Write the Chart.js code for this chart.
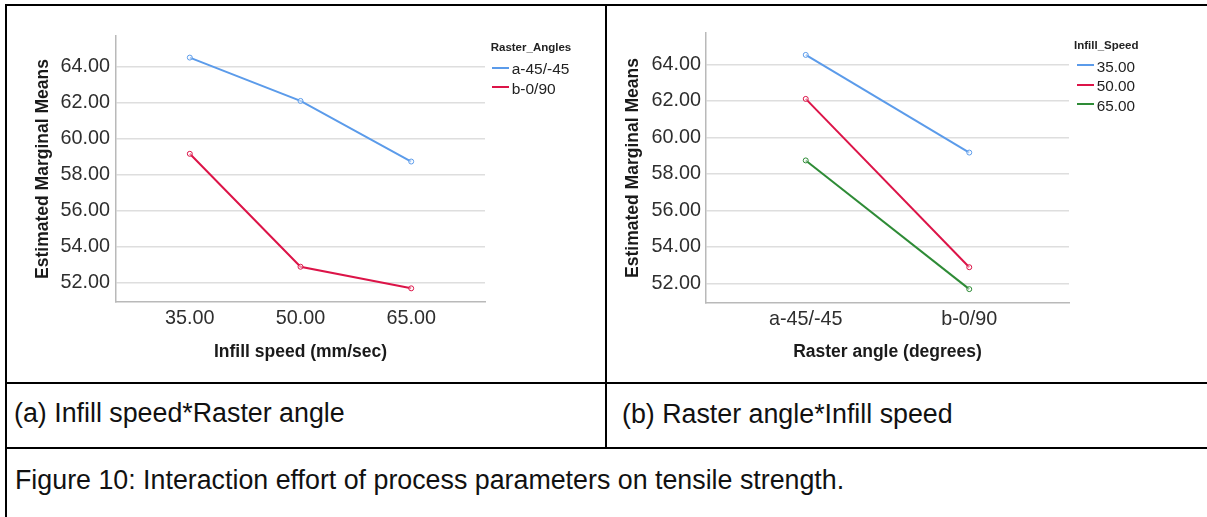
<!DOCTYPE html>
<html lang="en">
<head>
<meta charset="UTF-8">
<title>Interaction effort of process parameters on tensile strength</title>
<script src="https://cdn.jsdelivr.net/npm/chart.js"></script>
<style>
  body { margin: 0; background: #fff; font-family: "Liberation Sans", Arial, sans-serif; }
  #page { position: relative; width: 1207px; height: 517px; overflow: hidden; }
  .rule { position: absolute; background: #000; }
  canvas { position: absolute; top: 0; }
  .lg-title { position: absolute; font-weight: bold; font-size: 11.5px; line-height: 14px; color: #222; white-space: nowrap; }
  .lg-line { position: absolute; height: 2px; }
  .lg-text { position: absolute; color: #222; white-space: nowrap; }
  .caption { position: absolute; font-size: 26.8px; line-height: 30px; color: #111; white-space: nowrap; }
</style>
</head>
<body>
<div id="page">
  <canvas id="chartA" width="605" height="382" style="left:0"></canvas>
  <canvas id="chartB" width="600" height="382" style="left:607px"></canvas>

  <div class="rule" style="left:5px;top:4px;width:1202px;height:2px"></div>
  <div class="rule" style="left:5px;top:4px;width:2px;height:513px"></div>
  <div class="rule" style="left:605px;top:4px;width:2px;height:445px"></div>
  <div class="rule" style="left:5px;top:382px;width:1202px;height:2px"></div>
  <div class="rule" style="left:5px;top:447px;width:1202px;height:2px"></div>

  <div class="caption" style="left:14px;top:398px">(a) Infill speed*Raster angle</div>
  <div class="caption" style="left:622px;top:399px">(b) Raster angle*Infill speed</div>
  <div class="caption" style="left:15px;top:465px">Figure 10: Interaction effort of process parameters on tensile strength.</div>
</div>

<script>
  // data
  const infillSpeeds = [35, 50, 65];
  const rasterAngles = ['a-45/-45', 'b-0/90'];
  const meansRaster45 = [64.52, 62.11, 58.74];   // a-45/-45 at 35, 50, 65
  const meansRaster090 = [59.17, 52.89, 51.69];  // b-0/90 at 35, 50, 65
  const yTicks = [52, 54, 56, 58, 60, 62, 64];

  const blue = '#5b9bea', red = '#dc1448', green = '#2e8b36';
  const rasterColors = [blue, red];
  const speedColors = [blue, red, green];

  Chart.defaults.font.family = '"Liberation Sans", Arial, sans-serif';
  Chart.defaults.animation = false;

  function lineDataset(label, data, color) {
    return {
      label: label,
      data: data,
      borderColor: color,
      backgroundColor: color,
      borderWidth: 2,
      tension: 0,
      pointRadius: 2.5,
      pointBorderWidth: 1,
      pointBackgroundColor: 'rgba(255,255,255,0.5)',
      pointBorderColor: color
    };
  }

  function yScale(width, titlePad, tickPad) {
    return {
      type: 'linear', min: 50.93, max: 65.72,
      afterBuildTicks: s => { s.ticks = yTicks.map(v => ({ value: v })); },
      afterFit: s => { s.width = width; },
      ticks: { callback: v => v.toFixed(2), font: { size: 19.8 }, color: '#2e2e2e', padding: tickPad },
      grid: { color: '#dedede', lineWidth: 1.5, drawTicks: false },
      border: { color: '#b9b9b9', width: 1.5 },
      title: { display: true, text: 'Estimated Marginal Means', color: '#1a1a1a',
               font: { size: 17.5, weight: 'bold' }, padding: { top: titlePad, bottom: 0 } }
    };
  }

  function xScale(min, max, ticks, label, height, titleText, titlePad) {
    return {
      type: 'linear', min: min, max: max,
      afterBuildTicks: s => { s.ticks = ticks.map(v => ({ value: v })); },
      afterFit: s => { s.height = height; },
      ticks: { callback: label, font: { size: 19.8 }, color: '#2e2e2e', padding: 5, maxRotation: 0, autoSkip: false },
      grid: { display: false, drawTicks: false },
      border: { color: '#b9b9b9', width: 1.5 },
      title: { display: true, text: titleText, color: '#1a1a1a',
               font: { size: 17.5, weight: 'bold' }, padding: { top: 0, bottom: titlePad } }
    };
  }

  // (a) Infill speed * Raster angle
  new Chart(document.getElementById('chartA'), {
    type: 'line',
    data: {
      datasets: [
        lineDataset(rasterAngles[0], infillSpeeds.map((s, i) => ({ x: s, y: meansRaster45[i] })), rasterColors[0]),
        lineDataset(rasterAngles[1], infillSpeeds.map((s, i) => ({ x: s, y: meansRaster090[i] })), rasterColors[1])
      ]
    },
    options: {
      responsive: false,
      layout: { padding: { top: 36, right: 120, left: 0, bottom: 0 } },
      plugins: { legend: { display: false }, tooltip: { enabled: false } },
      scales: {
        x: xScale(25, 75, infillSpeeds, v => v.toFixed(2), 80, 'Infill speed (mm/sec)', 19.5),
        y: yScale(116, 32.5, 6)
      }
    }
  });

  // (b) Raster angle * Infill speed
  const byAngle = [meansRaster45, meansRaster090];
  new Chart(document.getElementById('chartB'), {
    type: 'line',
    data: {
      datasets: infillSpeeds.map((s, i) =>
        lineDataset(s.toFixed(2), rasterAngles.map((a, j) => ({ x: j, y: byAngle[j][i] })), speedColors[i]))
    },
    options: {
      responsive: false,
      layout: { padding: { top: 33, right: 138, left: 0, bottom: 0 } },
      plugins: { legend: { display: false }, tooltip: { enabled: false } },
      scales: {
        x: xScale(-0.61, 1.61, rasterAngles.map((a, j) => j), v => rasterAngles[v], 79, 'Raster angle (degrees)', 19.8),
        y: yScale(99, 15.5, 5)
      }
    }
  });

  // legends, SPSS style
  function legend(o) {
    const page = document.getElementById('page');
    const t = document.createElement('div');
    t.className = 'lg-title';
    t.textContent = o.title;
    t.style.left = o.titleX + 'px';
    t.style.top = (o.titleCy - 6.9) + 'px';
    page.appendChild(t);
    o.labels.forEach((lab, i) => {
      const cy = o.firstCy + i * o.step;
      const ln = document.createElement('div');
      ln.className = 'lg-line';
      ln.style.background = o.colors[i];
      ln.style.left = o.lineX + 'px';
      ln.style.width = '17.3px';
      ln.style.top = (cy - 1) + 'px';
      page.appendChild(ln);
      const tx = document.createElement('div');
      const lh = o.size * 1.2;
      tx.className = 'lg-text';
      tx.textContent = lab;
      tx.style.fontSize = o.size + 'px';
      tx.style.lineHeight = lh + 'px';
      tx.style.left = o.textX + 'px';
      tx.style.top = (cy + 2 - lh / 2) + 'px';
      page.appendChild(tx);
    });
  }

  legend({ title: 'Raster_Angles', labels: rasterAngles, colors: rasterColors,
           titleX: 490.7, titleCy: 46.7, lineX: 491.7, textX: 511.7, firstCy: 67.7, step: 19.6, size: 15.5 });
  legend({ title: 'Infill_Speed', labels: infillSpeeds.map(s => s.toFixed(2)), colors: speedColors,
           titleX: 1074, titleCy: 44.5, lineX: 1076.7, textX: 1096.7, firstCy: 65, step: 19.5, size: 15.3 });
</script>
</body>
</html>
